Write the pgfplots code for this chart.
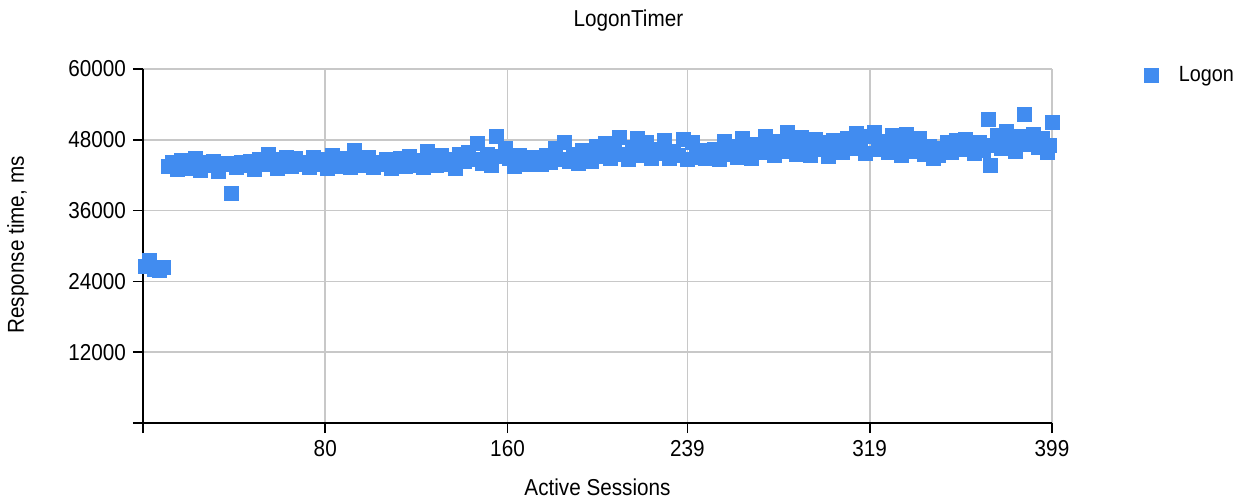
\documentclass[border=0pt]{standalone}
\usepackage{fontspec}
\setmainfont[FakeStretch=0.9]{Liberation Sans}
\usepackage{pgfplots}
\pgfplotsset{compat=1.18}
\usepackage{pgfplotstable}
\definecolor{mblue}{RGB}{65,140,240}
\definecolor{gridgray}{RGB}{200,200,200}

\pgfplotstableread{
x y
1 26500
3 27500
5 26000
7 25800
9 26300
11 43500
13 44200
15 43000
17 44500
19 43800
21 43200
23 44800
25 42800
27 44100
29 43600
31 44400
33 42700
35 43900
37 44000
39 39000
41 43300
43 44100
45 43600
47 44300
49 43000
51 44700
53 43800
55 45600
57 44200
59 43100
61 44600
63 45000
65 43500
67 44800
69 43900
71 44200
73 43400
75 45100
77 43800
79 44600
81 43200
83 45400
85 44000
87 43500
89 44900
91 43300
93 46200
95 44400
97 43600
99 45000
101 43400
103 44100
105 43800
107 44600
109 43200
111 44300
113 44900
115 43500
117 45200
119 43700
121 44500
123 43300
125 46000
127 44200
129 43600
131 45300
133 43900
135 44700
137 43100
139 45500
141 44300
143 45800
145 44600
147 47400
149 44000
151 45600
153 43700
155 48600
157 45200
159 46500
161 44800
163 43500
165 45300
167 44100
169 43900
171 45000
173 44500
175 43800
177 45400
179 44200
181 46500
183 44700
185 47500
187 44400
189 45600
191 44000
193 46200
195 45000
197 44300
199 46800
201 45200
203 47400
205 44800
207 46000
209 48400
211 45500
213 44600
215 46700
217 48300
219 45300
221 47600
223 44900
225 46300
227 45700
229 47900
231 44800
233 46100
235 45400
237 48100
239 44600
241 47600
243 45000
245 46200
247 44800
249 45500
251 46400
253 44700
255 47800
257 45600
259 46900
261 45100
263 48200
265 46000
267 44900
269 47200
271 45800
273 48600
275 46400
277 45300
279 47700
281 46100
283 49300
285 47000
287 45500
289 48400
291 46600
293 45400
295 48000
297 46300
299 47500
301 45200
303 47900
305 46800
307 45900
309 48300
311 46500
313 49100
315 47000
317 45700
319 48600
321 49200
323 46300
325 47800
327 45900
329 48800
331 46700
333 45400
335 48900
337 47100
339 46000
341 48200
343 45600
345 46800
347 44900
349 45300
351 46600
353 47500
355 45800
357 47900
359 46400
361 48100
363 46900
365 45700
367 47600
369 46200
371 51500
372 43600
373 47000
375 48800
377 46500
379 49500
381 47300
383 46000
385 48500
387 52300
389 47200
391 48900
393 46700
395 48200
397 45800
398 47000
399 51000
}\logondata

\begin{document}
\begin{tikzpicture}
\useasboundingbox (-71.5pt,-38.5pt) rectangle (548pt,211.5pt);
\begin{axis}[
  at={(0pt,0pt)}, anchor=origin,
  scale only axis,
  width=454.5pt, height=177pt,
  xmin=0, xmax=399, ymin=0, ymax=60000,
  clip=false,
  scaled y ticks=false, scaled x ticks=false,
  axis x line*=bottom, axis y line*=left,
  axis line style={-, black, line width=0.8pt},
  xtick={0,80,160,239,319,399},
  xticklabels={,80,160,239,319,399},
  ytick={0,12000,24000,36000,48000,60000},
  yticklabels={,12000,24000,36000,48000,60000},
  tick align=outside,
  major tick length=5pt,
  tick style={black, line width=0.8pt},
  grid=major,
  major grid style={gridgray, line width=0.8pt},
  ticklabel style={font=\fontsize{11.5}{13}\selectfont, text=black},
  /pgf/number format/assume math mode=true,
  title={LogonTimer},
  title style={at={(axis description cs:0.534,1)}, anchor=center, yshift=18pt, font=\fontsize{11.5}{13}\selectfont},
  xlabel={Active Sessions},
  xlabel style={at={(axis description cs:0.5,-0.181)}, anchor=center, font=\fontsize{11.5}{13}\selectfont},
  ylabel={Response time, ms},
  ylabel style={at={(axis description cs:-0.1375,0.503)}, anchor=center, font=\fontsize{11.5}{13}\selectfont},
  legend style={at={(axis description cs:1.095,1.03)}, anchor=north west, draw=none, fill=none, font=\fontsize{11}{13}\selectfont},
  legend cell align=left,
]
\addplot[only marks, mark=square*, mark size=3.5pt, mark options={fill=mblue, draw=mblue}] table[x=x,y=y] {\logondata};
\addlegendentry{\hspace{8pt}Logon}
\end{axis}
\end{tikzpicture}
\end{document}
